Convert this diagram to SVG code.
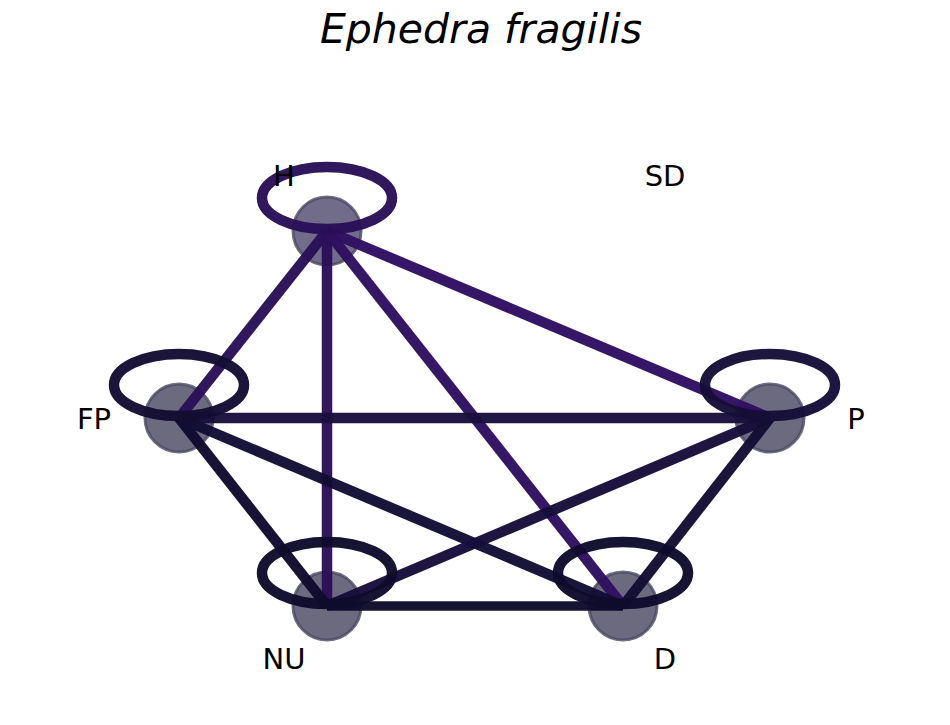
<svg xmlns="http://www.w3.org/2000/svg" width="950" height="725" viewBox="0 0 950 725">
<style>
.node{fill:#6c6a7e;stroke:#4a4862;stroke-opacity:0.8;stroke-width:3}
.e{stroke-width:10.5;stroke-opacity:0.97;fill:none;stroke-linecap:butt}
.lbl{font-family:"DejaVu Sans",sans-serif;font-size:29px;fill:#000;text-anchor:middle}
</style>
<rect width="950" height="725" fill="#fff"/>
<text x="481" y="43" style="font-family:'DejaVu Sans',sans-serif;font-style:italic;font-size:41px;text-anchor:middle">Ephedra fragilis</text>
<g id="nodes">
<g id="node-H"><circle class="node" cx="327" cy="231" r="34" style="fill:#716c89"/></g>
<g id="node-FP"><circle class="node" cx="179" cy="418" r="34"/></g>
<g id="node-P"><circle class="node" cx="770" cy="418" r="34"/></g>
<g id="node-NU"><circle class="node" cx="327" cy="606" r="34"/></g>
<g id="node-D"><circle class="node" cx="623" cy="606" r="34"/></g>
</g>
<g id="edges">
<line class="e" x1="327" y1="231" x2="179" y2="418" stroke="#2a1057"/>
<line class="e" x1="327" y1="231" x2="327" y2="606" stroke="#2b1058"/>
<line class="e" x1="327" y1="231" x2="770" y2="418" stroke="#300f62"/>
<line class="e" x1="327" y1="231" x2="623" y2="606" stroke="#2e1060"/>
<line class="e" x1="179" y1="418" x2="770" y2="418" stroke="#1a0f3d"/>
<line class="e" x1="179" y1="418" x2="327" y2="606" stroke="#110b2e"/>
<line class="e" x1="179" y1="418" x2="623" y2="606" stroke="#130d35"/>
<line class="e" x1="770" y1="418" x2="327" y2="606" stroke="#170e3a"/>
<line class="e" x1="770" y1="418" x2="623" y2="606" stroke="#130d33"/>
<line class="e" x1="327" y1="606" x2="623" y2="606" stroke="#100b2c" style="stroke-width:9.5"/>
<ellipse class="e" cx="327" cy="198" rx="65" ry="31" stroke="#2a1057"/>
<ellipse class="e" cx="179" cy="385" rx="65" ry="31" stroke="#140d33"/>
<ellipse class="e" cx="770" cy="385" rx="65" ry="31" stroke="#160e38"/>
<ellipse class="e" cx="327" cy="573" rx="65" ry="31" stroke="#100b2c"/>
<ellipse class="e" cx="623" cy="573" rx="65" ry="31" stroke="#100b2c"/>
</g>
<g id="labels">
<text class="lbl" x="284" y="186">H</text>
<text class="lbl" x="665" y="186">SD</text>
<text class="lbl" x="94" y="429">FP</text>
<text class="lbl" x="856" y="429">P</text>
<text class="lbl" x="284" y="669">NU</text>
<text class="lbl" x="665" y="669">D</text>
</g>
</svg>
